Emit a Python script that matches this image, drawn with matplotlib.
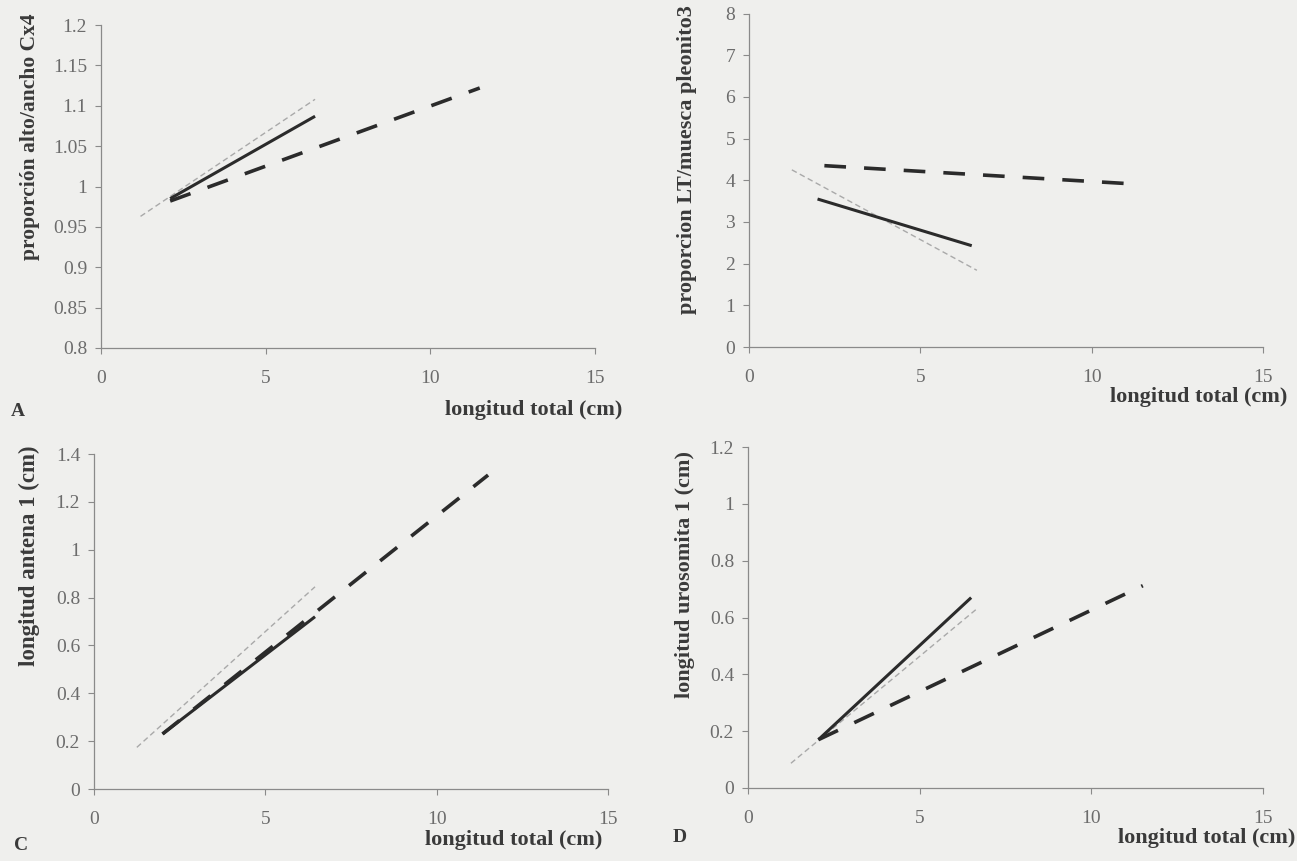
# allometry_panels.py
# Four panels: growth relations vs total length (solid, dashed, thin grey reference).

import matplotlib
matplotlib.use("Agg")
import matplotlib.pyplot as plt
from matplotlib.ticker import FuncFormatter

# ---- data ----
# panel A: proporción alto/ancho Cx4
a_solid_x = [2.1, 6.5]
a_solid_y = [0.985, 1.087]
a_dash_x = [2.1, 11.5]
a_dash_y = [0.982, 1.122]
a_ref_x = [1.2, 6.5]
a_ref_y = [0.963, 1.108]

# panel B: proporcion LT/muesca pleonito3
b_solid_x = [2.0, 6.5]
b_solid_y = [3.55, 2.43]
b_dash_x = [2.2, 11.45]
b_dash_y = [4.35, 3.90]
b_ref_x = [1.25, 6.65]
b_ref_y = [4.25, 1.84]

# panel C: longitud antena 1 (cm)
c_solid_x = [2.0, 6.45]
c_solid_y = [0.23, 0.72]
c_dash_x = [2.0, 11.5]
c_dash_y = [0.23, 1.312]
c_ref_x = [1.25, 6.45]
c_ref_y = [0.174, 0.845]

# panel D: longitud urosomita 1 (cm)
d_solid_x = [2.05, 6.5]
d_solid_y = [0.17, 0.67]
d_dash_x = [2.05, 11.5]
d_dash_y = [0.17, 0.712]
d_ref_x = [1.25, 6.65]
d_ref_y = [0.087, 0.629]

X_TICKS = [0, 5, 10, 15]
A_YTICKS = [0.8, 0.85, 0.9, 0.95, 1.0, 1.05, 1.1, 1.15, 1.2]
B_YTICKS = [0, 1, 2, 3, 4, 5, 6, 7, 8]
C_YTICKS = [0, 0.2, 0.4, 0.6, 0.8, 1.0, 1.2, 1.4]
D_YTICKS = [0, 0.2, 0.4, 0.6, 0.8, 1.0, 1.2]

XLABEL = "longitud total (cm)"
YLABELS = ["proporción alto/ancho Cx4", "proporcion LT/muesca pleonito3",
           "longitud antena 1 (cm)", "longitud urosomita 1 (cm)"]
# ----------------------------------

W, H = 1297, 861
BG = "#efefed"
INK = "#2b2b2b"
TICK_COL = "#6c6c6c"

plt.rcParams["font.family"] = ["Liberation Serif", "DejaVu Serif"]

fig = plt.figure(figsize=(W / 100, H / 100), dpi=100, facecolor=BG)


def px_axes(left, top, right, bottom):
    return fig.add_axes([left / W, 1 - bottom / H, (right - left) / W, (bottom - top) / H])


def style(ax, yticks):
    ax.set_facecolor("none")
    for s in ("top", "right"):
        ax.spines[s].set_visible(False)
    for s in ("left", "bottom"):
        ax.spines[s].set_color("#8a8a8a")
        ax.spines[s].set_linewidth(0.9)
    ax.set_xlim(0, 15)
    ax.set_ylim(yticks[0], yticks[-1])
    ax.set_xticks(X_TICKS)
    ax.set_yticks(yticks)
    ax.yaxis.set_major_formatter(FuncFormatter(lambda v, p: f"{v:g}"))
    ax.tick_params(axis="both", direction="out", length=4, width=0.8,
                   color="#8a8a8a", labelcolor=TICK_COL, labelsize=14)
    ax.tick_params(axis="x", pad=12)
    ax.tick_params(axis="y", pad=6)


def draw(ax, sx, sy, dx, dy, rx, ry):
    ax.plot(rx, ry, color="#a9a9a9", lw=1.0, dashes=(4, 2.5))
    ax.plot(sx, sy, color=INK, lw=2.2, solid_capstyle="butt")
    ax.plot(dx, dy, color=INK, lw=2.6, dashes=(6, 5), dash_capstyle="butt")


axA = px_axes(101, 25, 595, 348)
axB = px_axes(749, 13.5, 1263, 347)
axC = px_axes(94, 454, 608, 789)
axD = px_axes(748, 447, 1263, 788)

style(axA, A_YTICKS)
style(axB, B_YTICKS)
style(axC, C_YTICKS)
style(axD, D_YTICKS)

draw(axA, a_solid_x, a_solid_y, a_dash_x, a_dash_y, a_ref_x, a_ref_y)
draw(axB, b_solid_x, b_solid_y, b_dash_x, b_dash_y, b_ref_x, b_ref_y)
draw(axC, c_solid_x, c_solid_y, c_dash_x, c_dash_y, c_ref_x, c_ref_y)
draw(axD, d_solid_x, d_solid_y, d_dash_x, d_dash_y, d_ref_x, d_ref_y)

lab = dict(fontweight="bold", color="#3a3a3a")

# y labels (pixel centres, font size)
for (x, y, fs), txt in zip([(30, 137, 15.5), (687, 160, 16), (29, 556, 16.5), (685, 575, 16)],
                           YLABELS):
    fig.text(x / W, 1 - y / H, txt, rotation=90, ha="center", va="center",
             fontsize=fs, **lab)

# x labels (right ends)
for x, y in [(622, 410), (1287, 397), (602, 840), (1295, 838)]:
    fig.text(x / W, 1 - y / H, XLABEL, ha="right", va="center", fontsize=16, **lab)

# panel letters
for (x, y), t in zip([(18, 411), (21, 845), (680, 837)], ["A", "C", "D"]):
    fig.text(x / W, 1 - y / H, t, ha="center", va="center", fontsize=14, **lab)

fig.savefig("out.png", dpi=100, facecolor=BG)
